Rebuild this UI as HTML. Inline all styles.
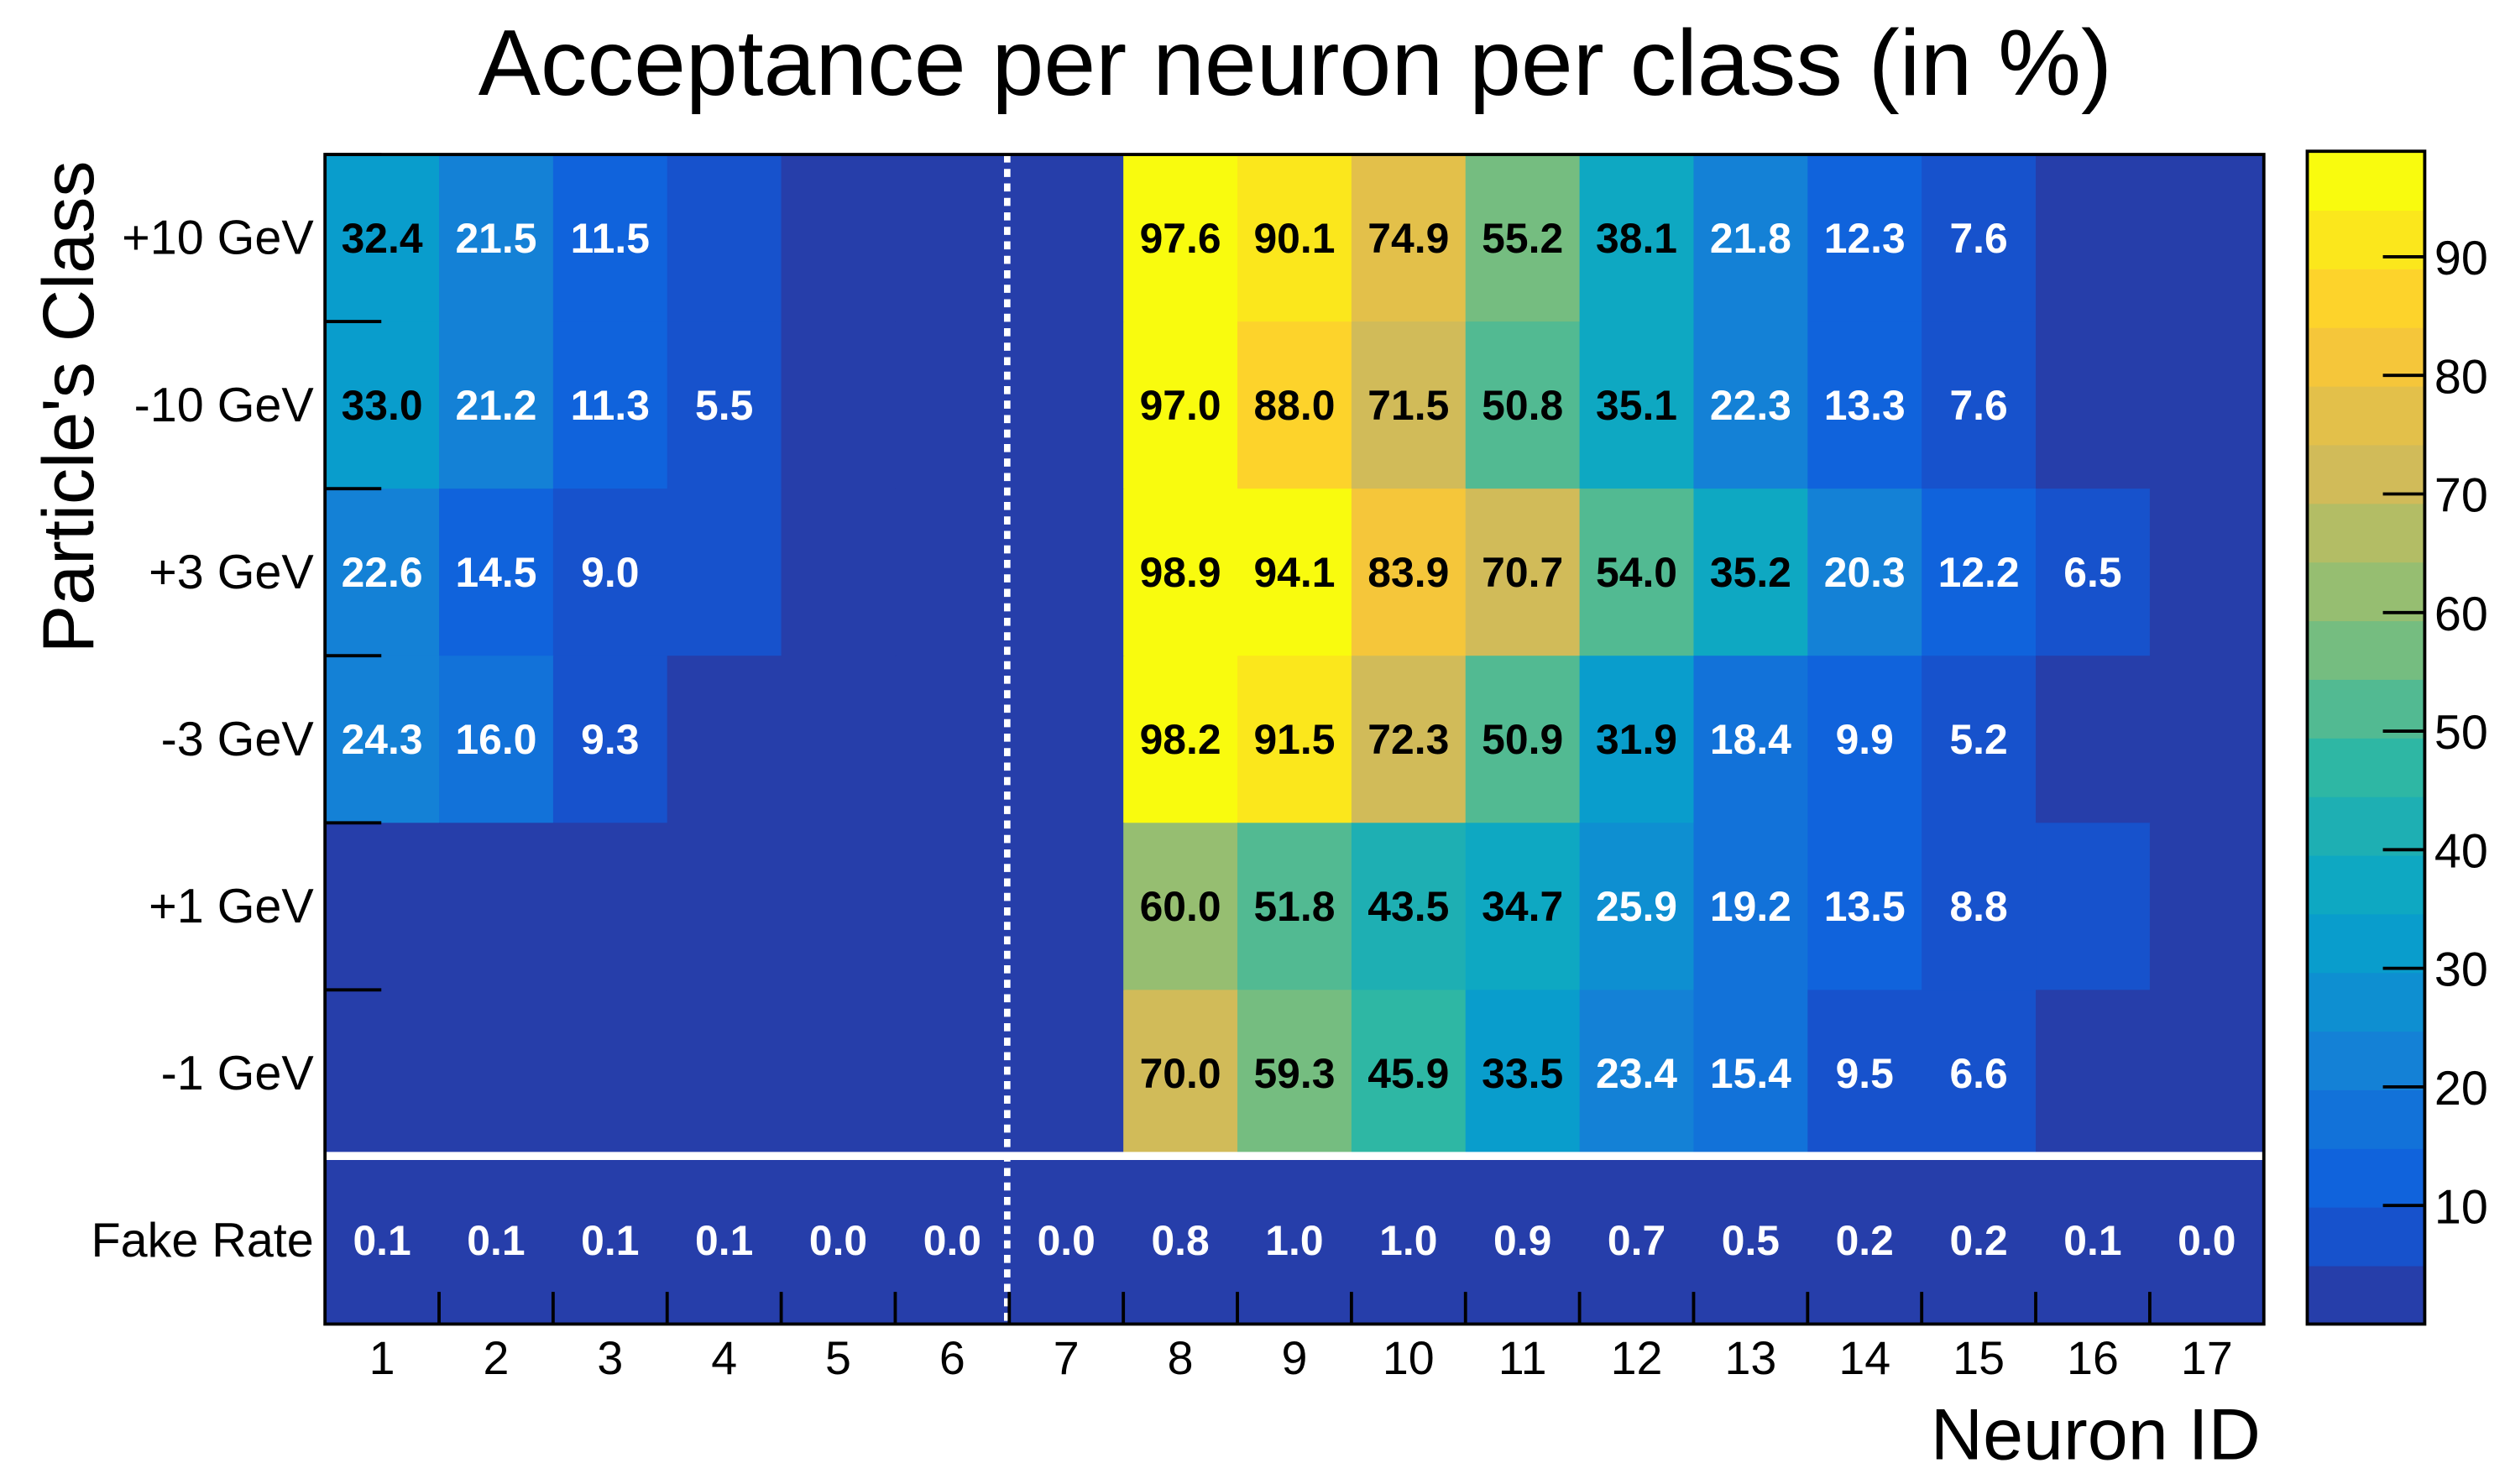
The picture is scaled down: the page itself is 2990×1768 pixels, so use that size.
<!DOCTYPE html>
<html><head><meta charset="utf-8"><style>
html,body{margin:0;padding:0;background:#fff;}
svg{display:block;}
text{font-family:"Liberation Sans",Arial,sans-serif;}
</style></head><body>
<svg id="chart" width="2990" height="1768" viewBox="0 0 1560 922.4" xmlns="http://www.w3.org/2000/svg">
<rect width="1560" height="922.4" fill="#fff"/>
<text x="805" y="59" font-size="58" text-anchor="middle">Acceptance per neuron per class (in %)</text>
<g id="cells"></g>
<g id="labels"></g>
<line x1="202" x2="1407" y1="718.5" y2="718.5" stroke="#fff" stroke-width="5"/>
<line x1="626" x2="626" y1="96" y2="823" stroke="#fff" stroke-width="4" stroke-dasharray="5,4"/>
<g id="axes"></g>
<rect x="202" y="96" width="1205" height="727" fill="none" stroke="#000" stroke-width="2"/>
<text transform="translate(58,253) rotate(-90)" font-size="45" text-anchor="middle">Particle's Class</text>
<text x="1405" y="907" font-size="45" text-anchor="end">Neuron ID</text>
<g id="cbar"></g>
</svg>
<script>
const neurons = ['1','2','3','4','5','6','7','8','9','10','11','12','13','14','15','16','17'];
const classes = ['+10 GeV','-10 GeV','+3 GeV','-3 GeV','+1 GeV','-1 GeV','Fake Rate'];
const rowP10 = [32.4,21.5,11.5,4.97,0,0,0,97.6,90.1,74.9,55.2,38.1,21.8,12.3,7.6,0,0];
const rowM10 = [33.0,21.2,11.3,5.5,0,0,0,97.0,88.0,71.5,50.8,35.1,22.3,13.3,7.6,0,0];
const rowP3 = [22.6,14.5,9.0,4.97,0,0,0,98.9,94.1,83.9,70.7,54.0,35.2,20.3,12.2,6.5,0];
const rowM3 = [24.3,16.0,9.3,0,0,0,0,98.2,91.5,72.3,50.9,31.9,18.4,9.9,5.2,0,0];
const rowP1 = [0,0,0,0,0,0,0,60.0,51.8,43.5,34.7,25.9,19.2,13.5,8.8,4.97,0];
const rowM1 = [0,0,0,0,0,0,0,70.0,59.3,45.9,33.5,23.4,15.4,9.5,6.6,0,0];
const rowFake = [0.1,0.1,0.1,0.1,0.0,0.0,0.0,0.8,1.0,1.0,0.9,0.7,0.5,0.2,0.2,0.1,0.0];
const colorTicks = [10,20,30,40,50,60,70,80,90];
const zMax = 98.9, nBands = 20;

const rows = [rowP10,rowM10,rowP3,rowM3,rowP1,rowM1,rowFake];
const NS = 'http://www.w3.org/2000/svg';
const PL=202, PR=1407, PT=96, PB=823;
const cw=(PR-PL)/neurons.length, rh=(PB-PT)/classes.length;
const xPos = i => PL + i*cw;
const yPos = j => PT + j*rh;
const stops=[0,.125,.25,.375,.5,.625,.75,.875,1];
const R=[0.2082,0.0592,0.0780,0.0232,0.1802,0.5301,0.8186,0.9956,0.9764];
const G=[0.1664,0.3599,0.5041,0.6419,0.7178,0.7492,0.7328,0.7862,0.9832];
const B=[0.5293,0.8684,0.8385,0.7914,0.6425,0.4662,0.3499,0.1968,0.0539];
function pal(f){f=Math.max(0,Math.min(1,f));let k=0;while(k<7&&f>stops[k+1])k++;
 const t=(f-stops[k])/(stops[k+1]-stops[k]);const c=a=>Math.round(255*(a[k]+(a[k+1]-a[k])*t));
 return `rgb(${c(R)},${c(G)},${c(B)})`;}
const bandColor = b => pal((b+1)/nBands);
const band = v => Math.min(nBands-1, Math.floor(v/(zMax/nBands)));
function mk(tag, attrs, parent){const e=document.createElementNS(NS,tag);for(const k in attrs)e.setAttribute(k,attrs[k]);parent.appendChild(e);return e;}
const gc=document.getElementById('cells'), gl=document.getElementById('labels'), ga=document.getElementById('axes'), gb=document.getElementById('cbar');
rows.forEach((row,j)=>{row.forEach((v,i)=>{
  const r=mk('rect',{x:xPos(i),y:yPos(j),width:cw+0.6,height:rh+0.6,fill:bandColor(band(v))},gc);
  
  
  const fake = j===classes.length-1;
  if(fake || v>=5){
    const t=mk('text',{x:xPos(i)+cw/2,y:yPos(j)+rh/2+9,'font-size':26,'font-weight':'bold','text-anchor':'middle',fill:(!fake&&v>=30)?'#000':'#fff'},gl);
    t.textContent=v.toFixed(1);
    
    
  }
});});
classes.forEach((c,j)=>{
  const t=mk('text',{x:195,y:yPos(j)+rh/2+10,'font-size':30,'text-anchor':'end'},ga);
  t.textContent=c;
  
  
  if(j<classes.length-1){const l=mk('line',{x1:PL,x2:PL+35,y1:yPos(j+ (j===0?0:0)),y2:yPos(j),stroke:'#000','stroke-width':2},ga);
    
    }
});
neurons.forEach((n,i)=>{
  const t=mk('text',{x:xPos(i)+cw/2,y:854,'font-size':29,'text-anchor':'middle'},ga);
  t.textContent=n;
  
  
  if(i>0){const l=mk('line',{x1:xPos(i),x2:xPos(i),y1:PB,y2:PB-20,stroke:'#000','stroke-width':2},ga);
    
    }
});
const CL=1434, CR=1507, CT=94, CB=823;
const cy = v => CB - v/zMax*(CB-CT);
for(let b=0;b<nBands;b++){
  const y0=cy((b+1)*zMax/nBands), y1=cy(b*zMax/nBands);
  const r=mk('rect',{x:CL,y:y0,width:CR-CL,height:y1-y0+0.5,fill:bandColor(b)},gb);
  
  
}
const fr=mk('rect',{x:CL,y:CT,width:CR-CL,height:CB-CT,fill:'none',stroke:'#000','stroke-width':2},gb);


colorTicks.forEach(v=>{
  const l=mk('line',{x1:CR-26,x2:CR,y1:cy(v),y2:cy(v),stroke:'#000','stroke-width':2},gb);
  
  
  const t=mk('text',{x:1513,y:cy(v)+11,'font-size':30},gb);
  t.textContent=String(v);
  
  
});
</script>
</body></html>
